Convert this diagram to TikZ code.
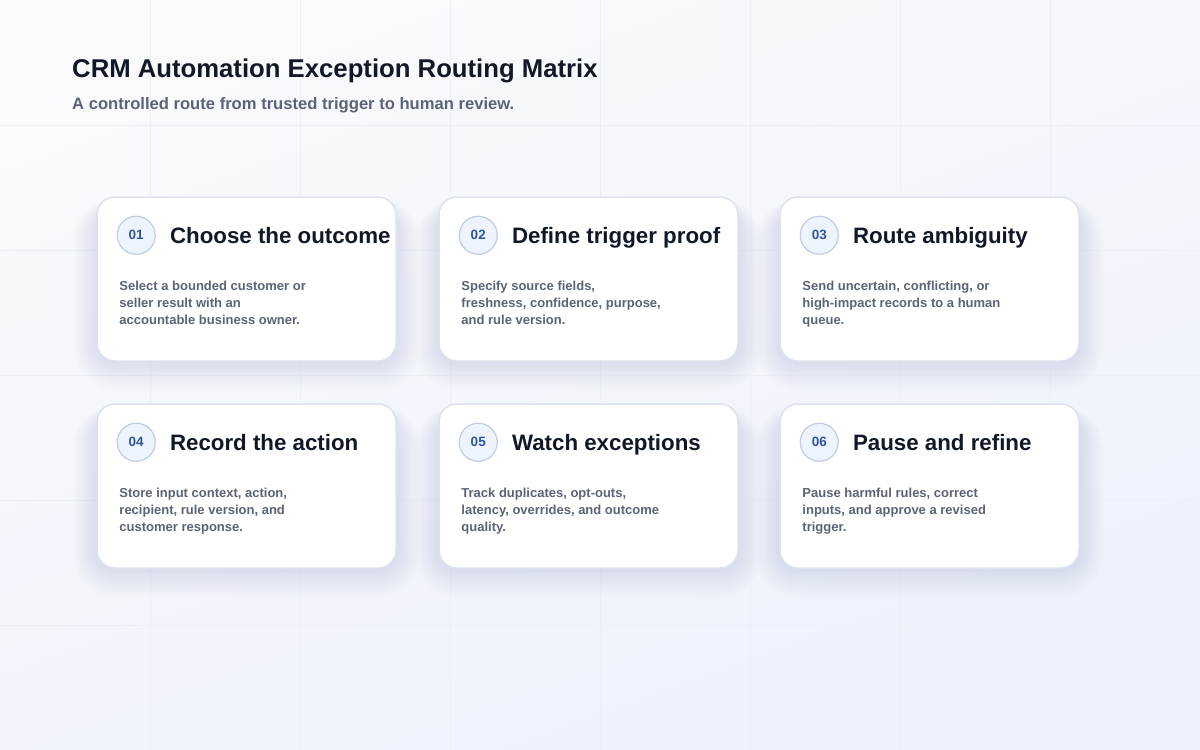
\documentclass[tikz,border=0pt]{standalone}
\usepackage{fontspec}
\setmainfont{Liberation Sans}
\usetikzlibrary{positioning,backgrounds}
\definecolor{inkdark}{HTML}{111827}
\definecolor{inkgray}{HTML}{5B6474}
\definecolor{numblue}{HTML}{2F55A0}
\definecolor{ringfill}{HTML}{EEF4FE}
\definecolor{ringline}{HTML}{BFCCE3}
\definecolor{cardline}{HTML}{DCE3EE}
\definecolor{gridline}{HTML}{ECF0F6}
\definecolor{bgtop}{HTML}{F8FAFC}
\definecolor{bgbottom}{HTML}{EDF2FB}
\definecolor{shadowcol}{HTML}{8E9AB8}
\tikzset{
  card/.style={draw=cardline, line width=1.5pt, fill=white, rounded corners=18pt,
    minimum width=299pt, minimum height=164pt, inner sep=0pt},
  numring/.style={circle, draw=ringline, line width=1.2pt, fill=ringfill, minimum size=38pt,
    inner sep=0pt, text=numblue, font=\fontsize{13.5}{13}\selectfont\bfseries},
  cardtitle/.style={anchor=west, inner sep=0pt, text height=16pt, text depth=5pt,
    text=inkdark, font=\fontsize{22.3}{26}\selectfont\bfseries},
  cardbody/.style={anchor=north west, inner sep=0pt, align=left, text=inkgray,
    font=\fontsize{13}{17}\selectfont\bfseries},
}

\begin{document}
\begin{tikzpicture}[x=1pt,y=-1pt]
\useasboundingbox (0,0) rectangle (1200,750);
\begin{scope}[on background layer]
\shade[top color=bgtop, bottom color=bgbottom, shading angle=20] (0,0) rectangle (1200,750);
\foreach \gx in {150,300,...,1050} \draw[gridline, line width=1pt] (\gx,0) -- (\gx,750);
\foreach \gy in {125,250,...,625} \draw[gridline, line width=1pt] (0,\gy) -- (1200,\gy);
\end{scope}

\node[anchor=base west, inner sep=0pt, text=inkdark, font=\fontsize{25.7}{30}\selectfont\bfseries]
  (heading) at (72,77) {CRM Automation Exception Routing Matrix};
\node[anchor=base west, inner sep=0pt, text=inkgray, font=\fontsize{16.6}{20}\selectfont\bfseries]
  (subheading) at (72,109) {A controlled route from trusted trigger to human review.};

\foreach \n/\cx/\cy/\ttl/\txt in {
  01/246.5/279/Choose the outcome/{Select a bounded customer or\\seller result with an\\accountable business owner.},
  02/588.5/279/Define trigger proof/{Specify source fields,\\freshness, confidence, purpose,\\and rule version.},
  03/929.5/279/Route ambiguity/{Send uncertain, conflicting, or\\high-impact records to a human\\queue.},
  04/246.5/486/Record the action/{Store input context, action,\\recipient, rule version, and\\customer response.},
  05/588.5/486/Watch exceptions/{Track duplicates, opt-outs,\\latency, overrides, and outcome\\quality.},
  06/929.5/486/Pause and refine/{Pause harmful rules, correct\\inputs, and approve a revised\\trigger.}}{
  \begin{scope}[on background layer]
  \foreach \k [evaluate=\k as \r using 18+\k] in {0,2,...,24}
    \fill[shadowcol, opacity=0.017, rounded corners=\r pt]
      (\cx-149.5-\k,\cy-82-\k/2+14) rectangle (\cx+149.5+\k,\cy+82+\k*1.2);
  \end{scope}
  \node[card] (card\n) at (\cx,\cy) {};
  \node[numring] (num\n) at ([shift={(40,39)}]card\n.north west) {\n};
  \node[cardtitle, right=14pt of num\n, yshift=-2.5pt] (title\n) {\ttl};
  \node[cardbody] (body\n) at ([shift={(23,85)}]card\n.north west) {\txt};
}
\end{tikzpicture}
\end{document}
